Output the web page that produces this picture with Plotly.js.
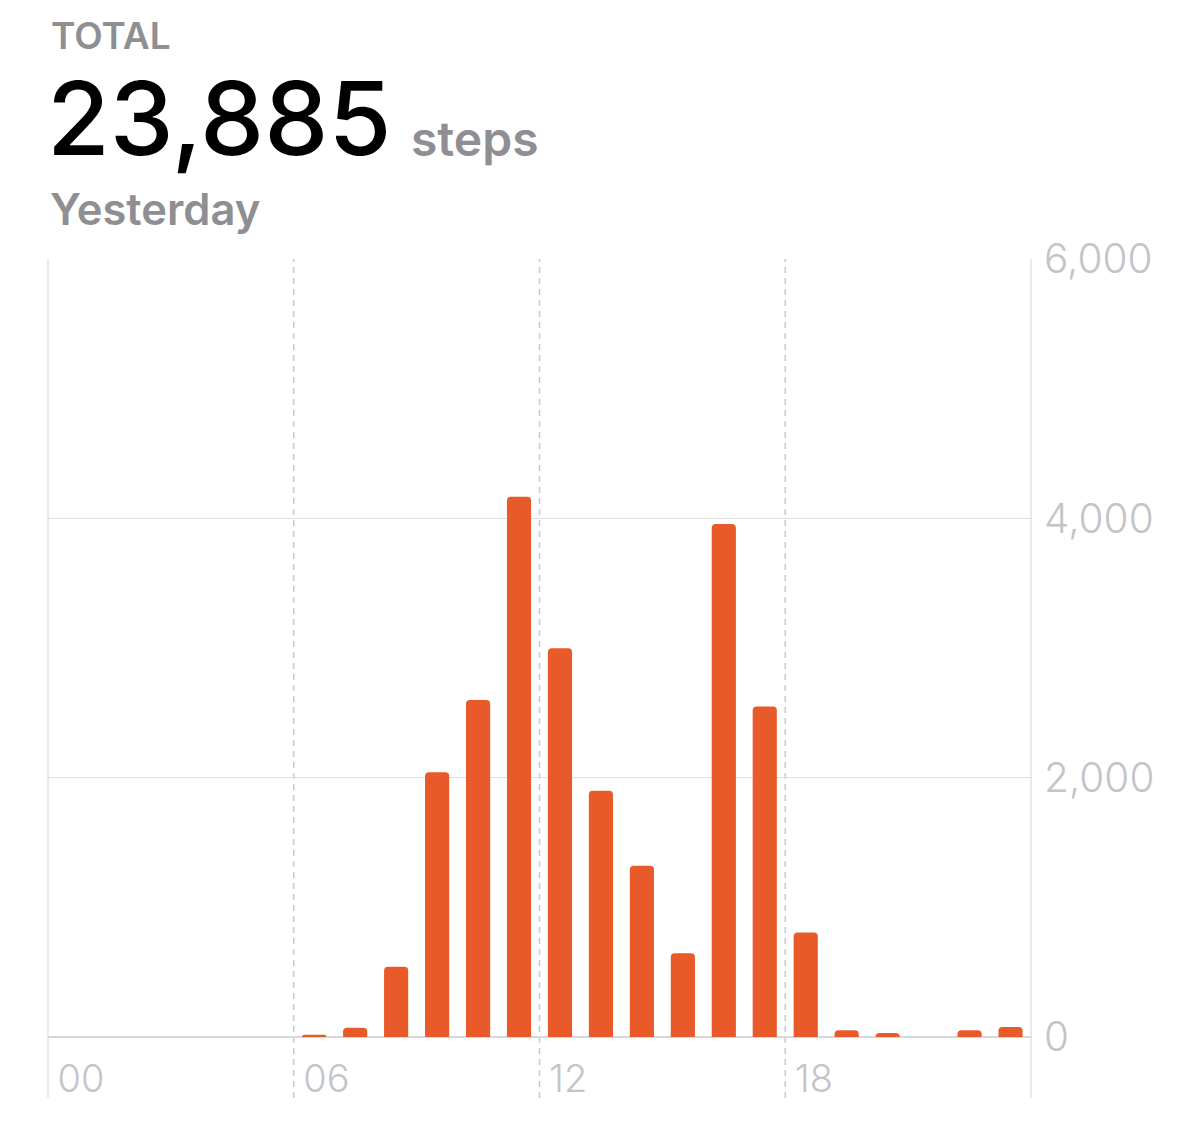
<!DOCTYPE html>
<html>
<head>
<meta charset="utf-8">
<script src="https://cdn.plot.ly/plotly-3.0.1.min.js"></script>
<style>
  html, body { margin: 0; padding: 0; background: #ffffff; }
  #chart { width: 1179px; height: 1141px; }
</style>
</head>
<body>
<div id="chart"></div>
<script>
// ---- data ----
const hours = [0,1,2,3,4,5,6,7,8,9,10,11,12,13,14,15,16,17,18,19,20,21,22,23];
const steps = [0,0,0,0,0,0,18,72,542,2042,2599,4167,2998,1900,1321,646,3957,2548,805,52,31,0,52,77];
const hourTickVals = [-0.5, 5.5, 11.5, 17.5];
const hourTickText = ["00", "06", "12", "18"];
const stepTickVals = [0, 2000, 4000, 6000];
const headerLabel = "TOTAL";
const totalText = "23,885";
const unitText = "steps";
const dayText = "Yesterday";

// ---- layout geometry (pixels) ----
const W = 1179, H = 1141;
const L = 48, R = 1031, T = 259, B = 1037;
const pw = R - L, ph = B - T;
const px = x => (x - L) / pw;
const py = y => (B - y) / ph;

const FONT = "Inter, 'Noto Sans', 'DejaVu Sans', sans-serif";
const gridC = "#e0e0e0";
const lineC = "#d4d4d4";
const dashC = "#c9c9c9";
const labelC = "#c4c4c8";
const headC = "#8e8e93";
const barC = "#E95A2A";
const extBottom = py(1098);

const shapes = [
  {type: "line", xref: "paper", yref: "paper", x0: 0, x1: 0, y0: extBottom, y1: 1,
   line: {color: lineC, width: 1}, layer: "below"},
  {type: "line", xref: "paper", yref: "paper", x0: 1, x1: 1, y0: extBottom, y1: 1,
   line: {color: lineC, width: 1}, layer: "below"}
];
hourTickVals.slice(1).forEach(v => {
  shapes.push({type: "line", xref: "x", yref: "paper", x0: v, x1: v, y0: extBottom, y1: 1,
    line: {color: dashC, width: 1.5, dash: "6px,5px"}, layer: "below"});
});

const annotations = [
  {text: headerLabel, xref: "paper", yref: "paper", x: px(49), y: py(35), xanchor: "left", yanchor: "middle",
   showarrow: false, font: {family: FONT, size: 37, color: headC, weight: 600}},
  {text: totalText, xref: "paper", yref: "paper", x: px(45), y: py(118), xanchor: "left", yanchor: "middle",
   showarrow: false, font: {family: FONT, size: 102, color: "#000000", weight: 500}},
  {text: unitText, xref: "paper", yref: "paper", x: px(409), y: py(138), xanchor: "left", yanchor: "middle",
   showarrow: false, font: {family: FONT, size: 48, color: headC, weight: 600}},
  {text: dayText, xref: "paper", yref: "paper", x: px(48), y: py(209), xanchor: "left", yanchor: "middle",
   showarrow: false, font: {family: FONT, size: 43.5, color: headC, weight: 600}}
];

const trace = {
  type: "bar",
  x: hours,
  y: steps,
  marker: {color: barC, cornerradius: 4, line: {width: 0}},
  hoverinfo: "skip"
};

const layout = {
  width: W, height: H,
  margin: {l: L, r: W - R, t: T, b: H - B, pad: 0},
  paper_bgcolor: "#ffffff",
  plot_bgcolor: "#ffffff",
  showlegend: false,
  bargap: 0.41,
  font: {family: FONT},
  xaxis: {
    range: [-0.5, 23.5],
    tickvals: hourTickVals,
    ticktext: hourTickText,
    ticklabelposition: "outside right",
    ticklabelshift: 9,
    ticklabelstandoff: 8,
    ticks: "outside", ticklen: 10, tickcolor: "rgba(0,0,0,0)",
    tickfont: {family: FONT, size: 38, color: labelC, weight: 300},
    showgrid: false, zeroline: false, showline: false,
    fixedrange: true
  },
  yaxis: {
    range: [0, 6000],
    side: "right",
    tickvals: stepTickVals,
    tickformat: ",d",
    ticks: "outside", ticklen: 4, tickcolor: "rgba(0,0,0,0)",
    tickfont: {family: FONT, size: 40.5, color: labelC, weight: 300},
    showgrid: true, gridcolor: gridC, gridwidth: 1.3,
    zeroline: true, zerolinecolor: "#d8d8d8", zerolinewidth: 1.5,
    showline: false,
    fixedrange: true
  },
  shapes: shapes,
  annotations: annotations
};

Plotly.newPlot("chart", [trace], layout, {displayModeBar: false, staticPlot: true});
</script>
</body>
</html>
